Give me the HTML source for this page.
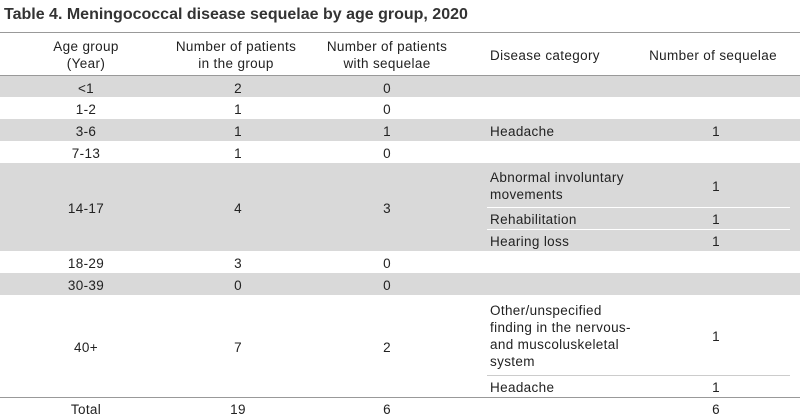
<!DOCTYPE html>
<html><head><meta charset="utf-8"><style>
body{margin:0;width:800px;height:420px;background:#fff;font-family:"Liberation Sans",sans-serif;color:#222;position:relative;overflow:hidden}
.t{position:absolute;left:4px;top:6px;font-size:16px;font-weight:bold;color:#333}
.a{position:absolute;font-size:13.5px;line-height:17px;letter-spacing:0.35px}
.c{text-align:center;transform:translateX(-50%);white-space:nowrap}
.bg{position:absolute;left:0;width:800px;background:#d9d9d9}
.ln{position:absolute;height:1px}
</style></head><body>
<div class="t">Table 4. Meningococcal disease sequelae by age group, 2020</div>
<div class="ln" style="left:0;width:800px;top:32px;background:#999"></div>
<div class="ln" style="left:0;width:800px;top:75px;background:#999"></div>
<div class="bg" style="top:76px;height:21px"></div>
<div class="bg" style="top:119px;height:22px"></div>
<div class="bg" style="top:163px;height:88px"></div>
<div class="bg" style="top:273px;height:22px"></div>
<div class="ln" style="left:487px;width:303px;top:207px;background:#fff"></div>
<div class="ln" style="left:487px;width:303px;top:229px;background:#fff"></div>
<div class="ln" style="left:487px;width:303px;top:375px;background:#ccc"></div>
<div class="ln" style="left:0;width:800px;top:397px;background:#999"></div>
<div class="a c" style="left:86px;top:38px">Age group<br>(Year)</div>
<div class="a c" style="left:236px;top:38px">Number of patients<br>in the group</div>
<div class="a c" style="left:387px;top:38px">Number of patients<br>with sequelae</div>
<div class="a" style="left:490px;top:47px">Disease category</div>
<div class="a c" style="left:713px;top:47px">Number of sequelae</div>
<script>
const ages=["<1","1-2","3-6","7-13","14-17","18-29","30-39","40+","Total"];
const pats=[2,1,1,1,4,3,0,7,19];
const seqp=[0,0,1,0,3,0,0,2,6];
const mids=[87,108,130,152,207,262,284,346,408];
for(let i=0;i<ages.length;i++){
 [[86,ages[i]],[238,pats[i]],[387,seqp[i]]].forEach(([x,v],j)=>{
  const d=document.createElement('div');d.className='a c';
  d.style.left=x+'px';d.style.top=(mids[i]-7)+'px';d.textContent=v;
  
  
  document.body.appendChild(d);
 });
}
const cats=["Headache","Abnormal involuntary<br>movements","Rehabilitation","Hearing loss","Other/unspecified<br>finding in the nervous-<br>and muscoluskeletal<br>system","Headache",""];
const nums=[1,1,1,1,1,1,6];
const cmids=[130,185,218,240,335,386,408];
for(let i=0;i<cats.length;i++){
 const lines=cats[i].split('<br>').length;
 const d=document.createElement('div');d.className='a';
 d.style.left='490px';d.style.top=(cmids[i]-lines*17/2+1)+'px';d.innerHTML=cats[i];
 
 
 document.body.appendChild(d);
 const n=document.createElement('div');n.className='a c';
 n.style.left='716px';n.style.top=(cmids[i]-7)+'px';n.textContent=nums[i];
 
 
 document.body.appendChild(n);
}
</script>
</body></html>
